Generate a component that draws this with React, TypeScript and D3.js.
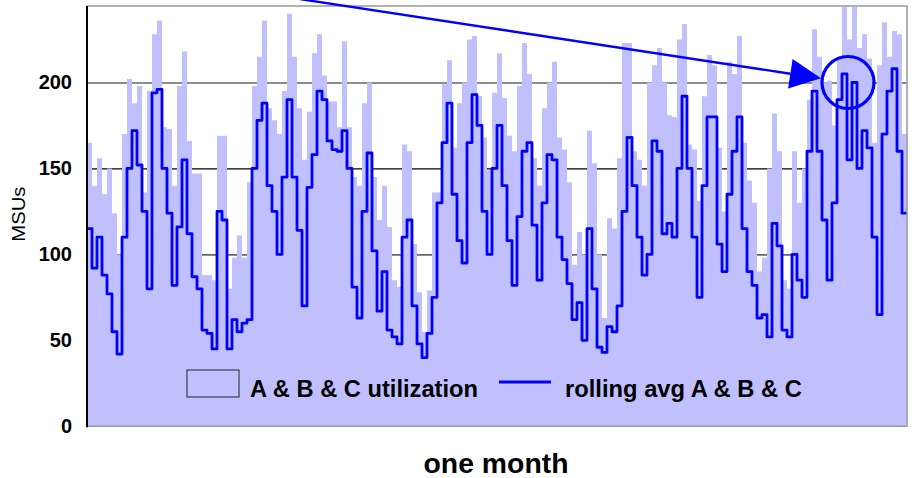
import { useRef, useEffect } from 'react';
import * as d3 from 'd3';

// hourly-ish samples over one month
const utilization = [
    165, 140, 156, 135, 150, 124, 100, 170, 202, 188, 198, 136, 195, 228, 236, 174, 173, 140, 198, 218, 166,
    147, 147, 88, 88, 85, 169, 169, 80, 98, 111, 98, 142, 198, 215, 236, 185, 178, 170, 195, 240, 215,
    185, 155, 183, 217, 228, 204, 189, 189, 174, 224, 174, 145, 140, 188, 200, 145, 120, 140, 116, 85, 81,
    164, 160, 106, 78, 55, 79, 136, 136, 199, 213, 162, 188, 200, 225, 227, 192, 168, 149, 194, 217, 191,
    169, 160, 198, 223, 205, 156, 140, 185, 200, 212, 168, 161, 142, 94, 113, 100, 172, 153, 100, 63, 121,
    115, 156, 223, 223, 160, 155, 140, 200, 210, 220, 200, 181, 180, 225, 234, 164, 161, 131, 192, 216, 210,
    162, 125, 212, 205, 227, 165, 143, 130, 90, 98, 150, 182, 160, 85, 80, 160, 130, 150, 190, 231, 215,
    200, 201, 175, 215, 244, 225, 244, 220, 228, 214, 165, 210, 235, 215, 230, 228, 170, 147,
];

const rollingAvg = [
    115, 92, 110, 88, 77, 55, 42, 110, 150, 172, 152, 125, 80, 194, 196, 150, 124, 82, 116, 155, 112,
    87, 80, 56, 54, 45, 125, 120, 45, 62, 55, 60, 62, 150, 178, 188, 140, 125, 100, 145, 190, 145,
    114, 70, 139, 158, 195, 190, 166, 161, 160, 172, 150, 81, 63, 125, 159, 102, 67, 90, 56, 52, 48,
    110, 120, 70, 48, 40, 54, 75, 130, 165, 188, 135, 108, 95, 165, 193, 175, 125, 100, 150, 175, 140,
    108, 82, 122, 160, 165, 117, 85, 130, 158, 155, 110, 97, 83, 62, 72, 50, 115, 80, 46, 43, 58,
    55, 70, 125, 168, 140, 110, 88, 100, 166, 160, 112, 118, 110, 150, 192, 150, 110, 75, 140, 180, 180,
    106, 90, 135, 160, 180, 115, 90, 82, 63, 65, 52, 118, 105, 56, 52, 100, 85, 75, 160, 195, 160,
    120, 85, 130, 190, 205, 155, 200, 150, 172, 162, 110, 65, 170, 195, 208, 160, 124, 124,
];

const yTicks = [0, 50, 100, 150, 200];
const gridValues = [100, 150, 200];
const legendLabels = ['A & B & C utilization', 'rolling avg A & B & C'];
const xLabel = 'one month';
const yLabel = 'MSUs';

// annotation: arrow pointing to the circled peak
const arrowStart = { index: 42.6, value: 248.5 };
const arrowTip = { index: 146.8, value: 202.4 };
const circled = { index: 152.2, value: 200 };

const W = 917;
const H = 478;

const UtilizationChart = () => {

    const svgRef = useRef<SVGSVGElement | null>(null);

    useEffect(() => {
        const svgElement = svgRef.current;
        if (!svgElement) return;

        const margin = { top: 6, right: 10, bottom: 52, left: 87 };
        const left = margin.left;
        const right = W - margin.right;
        const top = margin.top;
        const bottom = H - margin.bottom + 0.3;

        const svg = d3.select(svgElement);
        svg.selectAll('*').remove();

        const x = d3.scaleLinear()
            .domain([0, utilization.length - 1])
            .range([left, right]);

        const y = d3.scaleLinear()
            .domain([0, 244.5])
            .range([bottom, top]);

        const font = "'Liberation Sans', Arial, sans-serif";

        // grid lines sit behind the area
        const grid = svg.append('g')
            .attr('transform', `translate(${left}, 0)`)
            .call(d3.axisLeft(y)
                .tickValues(gridValues)
                .tickSize(-(right - left))
                .tickFormat(() => '')
            );
        grid.select('.domain').remove();
        grid.selectAll('.tick line')
            .attr('stroke', (d: any) => d === 150 ? '#000' : '#666')
            .attr('stroke-width', (d: any) => d === 150 ? 1.2 : 1.6);

        const area = d3.area<number>()
            .x((_, i) => x(i))
            .y0(y(0))
            .y1(d => y(d))
            .curve(d3.curveStepAfter);

        svg.append('path')
            .datum(utilization)
            .attr('fill', '#c0c0ff')
            .attr('d', area);

        const line = d3.line<number>()
            .x((_, i) => x(i))
            .y(d => y(d))
            .curve(d3.curveStepAfter);

        svg.append('path')
            .datum(rollingAvg)
            .attr('fill', 'none')
            .attr('stroke', '#0000ff')
            .attr('stroke-width', 2.8)
            .attr('stroke-linejoin', 'round')
            .attr('d', line);

        // frame
        svg.append('path')
            .attr('d', `M${left},${top}H${right}V${bottom}H${left}`)
            .attr('fill', 'none')
            .attr('stroke', '#999')
            .attr('stroke-width', 1.5);

        svg.append('line')
            .attr('x1', left).attr('x2', left)
            .attr('y1', top).attr('y2', bottom + 1)
            .attr('stroke', '#000')
            .attr('stroke-width', 2);

        const yAxis = svg.append('g')
            .attr('transform', `translate(${left - 15}, 0)`)
            .call(d3.axisLeft(y).tickValues(yTicks).tickSize(0).tickPadding(0));
        yAxis.select('.domain').remove();
        yAxis.selectAll('text')
            .attr('fill', '#000')
            .style('font-family', font)
            .style('font-weight', 'bold')
            .style('font-size', '20px');

        svg.append('text')
            .attr('transform', `translate(25, ${(top + bottom) / 2 - 2}) rotate(-90)`)
            .attr('text-anchor', 'middle')
            .attr('textLength', 55)
            .attr('lengthAdjust', 'spacingAndGlyphs')
            .style('font-family', font)
            .style('font-size', '19px')
            .text(yLabel);

        svg.append('text')
            .attr('x', (left + right) / 2 - 1)
            .attr('y', 472.5)
            .attr('text-anchor', 'middle')
            .attr('textLength', 145)
            .attr('lengthAdjust', 'spacingAndGlyphs')
            .style('font-family', font)
            .style('font-weight', 'bold')
            .style('font-size', '27px')
            .text(xLabel);

        // legend
        const legend = svg.append('g');
        legend.append('rect')
            .attr('x', 187).attr('y', 370)
            .attr('width', 52).attr('height', 27)
            .attr('fill', '#c0c0ff')
            .attr('stroke', '#222')
            .attr('stroke-width', 1);
        legend.append('text')
            .attr('x', 250).attr('y', 396.5)
            .attr('textLength', 228)
            .attr('lengthAdjust', 'spacingAndGlyphs')
            .style('font-family', font)
            .style('font-weight', 'bold')
            .style('font-size', '24px')
            .text(legendLabels[0]);
        legend.append('line')
            .attr('x1', 499).attr('x2', 551)
            .attr('y1', 382).attr('y2', 382)
            .attr('stroke', '#0000ff')
            .attr('stroke-width', 3);
        legend.append('text')
            .attr('x', 565).attr('y', 396.5)
            .attr('textLength', 237)
            .attr('lengthAdjust', 'spacingAndGlyphs')
            .style('font-family', font)
            .style('font-weight', 'bold')
            .style('font-size', '24px')
            .text(legendLabels[1]);

        // arrow + circle annotation
        const x0 = x(arrowStart.index), y0 = y(arrowStart.value);
        const x1 = x(arrowTip.index), y1 = y(arrowTip.value);
        const len = Math.hypot(x1 - x0, y1 - y0);
        const ux = (x1 - x0) / len, uy = (y1 - y0) / len;
        const headLen = 31, headHalf = 15;
        const bx = x1 - ux * headLen, by = y1 - uy * headLen;

        svg.append('line')
            .attr('x1', x0).attr('y1', y0)
            .attr('x2', bx).attr('y2', by)
            .attr('stroke', '#0000ff')
            .attr('stroke-width', 2.4);

        svg.append('path')
            .attr('d', `M${x1},${y1}L${bx - uy * headHalf},${by + ux * headHalf}L${bx + uy * headHalf},${by - ux * headHalf}Z`)
            .attr('fill', '#0000ff');

        svg.append('circle')
            .attr('cx', x(circled.index))
            .attr('cy', y(circled.value))
            .attr('r', 26)
            .attr('fill', 'none')
            .attr('stroke', '#0000ff')
            .attr('stroke-width', 3.2);
    }, []);

    return (
        <svg ref={svgRef} width={W} height={H}
            style={{ position: 'absolute', left: 0, top: 0, background: '#fff' }} />
    );
};

export default function App() {
    return <UtilizationChart />;
}
